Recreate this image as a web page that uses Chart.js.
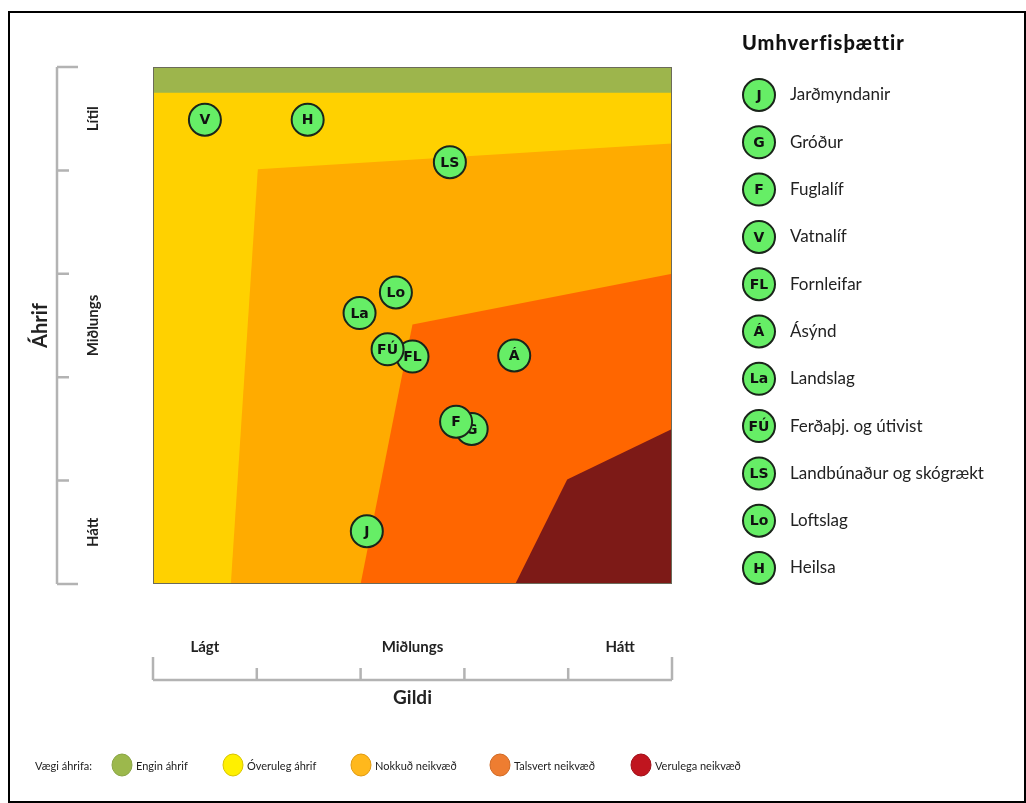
<!DOCTYPE html>
<html>
<head>
<meta charset="utf-8">
<script src="https://cdn.jsdelivr.net/npm/chart.js@4.4.0/dist/chart.umd.min.js"></script>
<style>
  body { margin: 0; background: #fff; }
  canvas { display: block; }
</style>
</head>
<body>
<canvas id="matrix" width="1026" height="803"></canvas>
<script>
// --- data ---
const factorCodes = ['J', 'G', 'F', 'V', 'FL', 'Á', 'La', 'FÚ', 'LS', 'Lo', 'H'];
const factorNames = ['Jarðmyndanir', 'Gróður', 'Fuglalíf', 'Vatnalíf', 'Fornleifar', 'Ásýnd',
                     'Landslag', 'Ferðaþj. og útivist', 'Landbúnaður og skógrækt', 'Loftslag', 'Heilsa'];
// Gildi (x, 0..5) and Áhrif (y, 0..5, top = Lítil)
const factorGildi = [2.06, 3.07, 2.92, 0.50, 2.50, 3.48, 1.99, 2.26, 2.86, 2.34, 1.49];
const factorAhrif = [0.51, 1.50, 1.57, 4.49, 2.20, 2.21, 2.62, 2.27, 4.08, 2.82, 4.49];

// zone boundaries (filled down to 0)
const zoneNames = ['Engin áhrif', 'Óveruleg áhrif', 'Nokkuð neikvæð', 'Talsvert neikvæð', 'Verulega neikvæð'];
const enginX = [0, 5],               enginY = [5, 5];
const overulegX = [0, 5],            overulegY = [4.75, 4.75];
const nokkudX = [0.75, 1.01, 5],     nokkudY = [0, 4.01, 4.26];
const talsvertX = [2.0, 2.39, 2.50, 5], talsvertY = [0, 1.97, 2.51, 3.0];
const verulegaX = [3.49, 3.99, 5],   verulegaY = [0, 1.01, 1.50];

const xTickLabels = ['Lágt', 'Miðlungs', 'Hátt'];
const yTickLabels = ['Hátt', 'Miðlungs', 'Lítil'];

// colours
const zoneFill = ['#9db54c', '#ffd100', '#ffab00', '#ff6600', '#7d1a17'];
const zoneLegendFill = ['#9cb84c', '#fff000', '#ffb81c', '#ee7d31', '#c0151f'];
const zoneLegendEdge = ['#8aa545', '#d8c400', '#e09a10', '#d06a25', '#a00f18'];
const markerFill = '#66ee66';
const markerEdge = '#1a251a';
const axisGray = '#b3b3b3';
const codeFont = 'bold 14px "DejaVu Sans"';

const pts = (xs, ys) => xs.map((x, i) => ({ x: x, y: ys[i] }));

function zone(data, color, order) {
    return {
        data: data, showLine: true, fill: 'origin', backgroundColor: color,
        borderWidth: 0, pointRadius: 0, order: order, tension: 0, isZone: true
    };
}

const datasets = [
    zone(pts(enginX, enginY), zoneFill[0], 20),
    zone(pts(overulegX, overulegY), zoneFill[1], 19),
    zone(pts(nokkudX, nokkudY), zoneFill[2], 18),
    zone(pts(talsvertX, talsvertY), zoneFill[3], 17),
    zone(pts(verulegaX, verulegaY), zoneFill[4], 16)
];
factorCodes.forEach((code, i) => {
    datasets.push({
        label: factorNames[i], code: code,
        data: [{ x: factorGildi[i], y: factorAhrif[i] }],
        pointRadius: 16, pointBorderWidth: 2,
        pointBackgroundColor: markerFill, pointBorderColor: markerEdge,
        order: -i
    });
});

function circleMark(ctx, x, y, r, code) {
    ctx.beginPath();
    ctx.arc(x, y, r, 0, Math.PI * 2);
    ctx.fillStyle = markerFill;
    ctx.fill();
    ctx.lineWidth = 2;
    ctx.strokeStyle = markerEdge;
    ctx.stroke();
    ctx.fillStyle = '#111';
    ctx.font = codeFont;
    ctx.textAlign = 'center';
    ctx.textBaseline = 'middle';
    ctx.fillText(code, x, y + 1);
}

// labels inside the markers, drawn right after each marker so overlaps stack
const markerLabels = {
    id: 'markerLabels',
    afterDatasetDraw(chart, args) {
        const ds = chart.data.datasets[args.index];
        if (ds.isZone) return;
        const el = args.meta.data[0];
        const ctx = chart.ctx;
        ctx.save();
        ctx.fillStyle = '#111';
        ctx.font = codeFont;
        ctx.textAlign = 'center';
        ctx.textBaseline = 'middle';
        ctx.fillText(ds.code, el.x, el.y + 1);
        ctx.restore();
    }
};

// bracket axes, legends and frame
const decorations = {
    id: 'decorations',
    afterDatasetsDraw(chart) {
        const ctx = chart.ctx;
        const a = chart.chartArea;
        ctx.save();
        ctx.strokeStyle = '#6b6b5a';
        ctx.lineWidth = 1;
        ctx.strokeRect(a.left + 0.5, a.top + 0.5, a.right - a.left - 1, a.bottom - a.top - 1);
        ctx.restore();
    },
    afterDraw(chart) {
        const ctx = chart.ctx;
        const xs = chart.scales.x, ys = chart.scales.y;
        ctx.save();

        // outer frame
        ctx.strokeStyle = '#000';
        ctx.lineWidth = 2;
        ctx.strokeRect(9, 12, 1016, 790);

        // x bracket
        const bx = 680;
        ctx.strokeStyle = axisGray;
        ctx.lineWidth = 2.5;
        ctx.beginPath();
        ctx.moveTo(xs.getPixelForValue(0), bx);
        ctx.lineTo(xs.getPixelForValue(5), bx);
        for (let v = 0; v <= 5; v++) {
            const px = xs.getPixelForValue(v);
            ctx.moveTo(px, bx);
            ctx.lineTo(px, (v === 0 || v === 5) ? 657 : 668);
        }
        ctx.stroke();

        ctx.fillStyle = '#222';
        ctx.textAlign = 'center';
        ctx.textBaseline = 'middle';
        ctx.font = 'bold 15px Lato';
        xTickLabels.forEach((t, i) => ctx.fillText(t, xs.getPixelForValue(0.5 + 2 * i), 647));
        ctx.font = 'bold 19px Lato';
        ctx.fillText('Gildi', xs.getPixelForValue(2.5), 698);

        // y bracket
        const by = 57;
        ctx.beginPath();
        ctx.moveTo(by, ys.getPixelForValue(0));
        ctx.lineTo(by, ys.getPixelForValue(5));
        for (let v = 0; v <= 5; v++) {
            const py = ys.getPixelForValue(v);
            ctx.moveTo(by, py);
            ctx.lineTo((v === 0 || v === 5) ? 78 : 69, py);
        }
        ctx.stroke();

        yTickLabels.forEach((t, i) => {
            ctx.save();
            ctx.translate(93, ys.getPixelForValue(0.5 + 2 * i));
            ctx.rotate(-Math.PI / 2);
            ctx.font = 'bold 15px Lato';
            ctx.fillText(t, 0, 0);
            ctx.restore();
        });
        ctx.save();
        ctx.translate(41, ys.getPixelForValue(2.5));
        ctx.rotate(-Math.PI / 2);
        ctx.font = 'bold 20px Lato';
        ctx.fillText('Áhrif', 0, 0);
        ctx.restore();

        // right legend
        ctx.textAlign = 'left';
        ctx.fillStyle = '#111';
        ctx.font = '900 20px Lato';
        ctx.letterSpacing = '1px';
        ctx.fillText('Umhverfisþættir', 742, 44);
        ctx.letterSpacing = '0px';
        factorCodes.forEach((code, i) => {
            const y = 95 + i * 47.3;
            circleMark(ctx, 759, y, 16, code);
            ctx.textAlign = 'left';
            ctx.fillStyle = '#222';
            ctx.font = '17px Lato';
            ctx.fillText(factorNames[i], 790, y);
        });

        // bottom legend
        ctx.textAlign = 'left';
        ctx.fillStyle = '#222';
        ctx.font = '11px Lato';
        ctx.fillText('Vægi áhrifa:', 35, 766);
        const lx = [122, 233, 361, 500, 641];
        zoneNames.forEach((n, i) => {
            ctx.beginPath();
            ctx.ellipse(lx[i], 765, 10, 11, 0, 0, Math.PI * 2);
            ctx.fillStyle = zoneLegendFill[i];
            ctx.fill();
            ctx.lineWidth = 1;
            ctx.strokeStyle = zoneLegendEdge[i];
            ctx.stroke();
            ctx.fillStyle = '#222';
            ctx.fillText(n, lx[i] + 14, 766);
        });

        ctx.restore();
    }
};

new Chart(document.getElementById('matrix'), {
    type: 'scatter',
    data: { datasets: datasets },
    options: {
        responsive: false,
        animation: false,
        devicePixelRatio: 1,
        layout: { padding: { left: 153, top: 67, right: 354, bottom: 219 } },
        scales: {
            x: { type: 'linear', min: 0, max: 5, display: false },
            y: { type: 'linear', min: 0, max: 5, display: false }
        },
        plugins: {
            legend: { display: false },
            tooltip: { enabled: false }
        }
    },
    plugins: [markerLabels, decorations]
});
</script>
</body>
</html>
